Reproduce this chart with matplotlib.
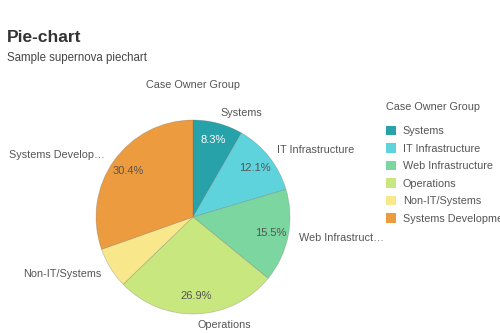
import matplotlib
matplotlib.use("Agg")
import matplotlib.pyplot as plt

categories = ["Systems", "IT Infrastructure", "Web Infrastructure", "Operations",
              "Non-IT/Systems", "Systems Development"]
short_labels = ["Systems", "IT Infrastructure", "Web Infrastruct\u2026", "Operations",
                "Non-IT/Systems", "Systems Develop\u2026"]
values = [8.3, 12.1, 15.5, 26.9, 6.8, 30.4]
colors = ["#27a2a9", "#5fd3dc", "#7cd6a0", "#c9e77f", "#f9e78b", "#ec9b3e"]
pct_colors = ["white", "#555555", "#555555", "#555555", "#555555", "#555555"]

plt.rcParams['font.family'] = ['Liberation Sans', 'DejaVu Sans']

W, H = 500, 333
fig = plt.figure(figsize=(W / 100, H / 100), dpi=100)
cx, cy, r = 193, 217, 97
ax = fig.add_axes([(cx - r) / W, (H - cy - r) / H, 2 * r / W, 2 * r / H])

def fmt(p):
    return f"{p:.1f}%" if p >= 8 else ""

wedges, texts, autotexts = ax.pie(
    values, labels=short_labels, colors=colors, startangle=90, counterclock=False,
    autopct=fmt, pctdistance=0.82, labeldistance=1.11,
    wedgeprops=dict(edgecolor=(0.4, 0.4, 0.4, 0.35), linewidth=0.5),
    textprops=dict(fontsize=7.8, color="#555555"))
for t, c in zip(autotexts, pct_colors):
    t.set_color(c)
    t.set_fontsize(8)
ax.set_xlim(-1, 1)
ax.set_ylim(-1, 1)
ax.set_aspect('equal')

fig.text(7 / W, 1 - 37 / H, "Pie-chart", fontsize=12.5, fontweight='bold', color="#333333",
         va='center', ha='left')
fig.text(7 / W, 1 - 58 / H, "Sample supernova piechart", fontsize=8.3, color="#444444",
         va='center', ha='left')
fig.text(cx / W, 1 - 85 / H, "Case Owner Group", fontsize=7.8, color="#555555",
         va='center', ha='center')

fig.text(386 / W, 1 - 107 / H, "Case Owner Group", fontsize=7.8, color="#555555",
         va='center', ha='left')
leg = fig.legend(wedges, categories, loc='upper left',
                 bbox_to_anchor=(386 / W, 1 - 126 / H), frameon=False,
                 fontsize=7.8, handlelength=0.95, handleheight=0.95, handletextpad=0.6,
                 labelspacing=0.65, borderpad=0, borderaxespad=0)
for t in leg.get_texts():
    t.set_color("#555555")
for h in leg.legend_handles:
    h.set_edgecolor('none')

fig.savefig("out.png", dpi=100)
